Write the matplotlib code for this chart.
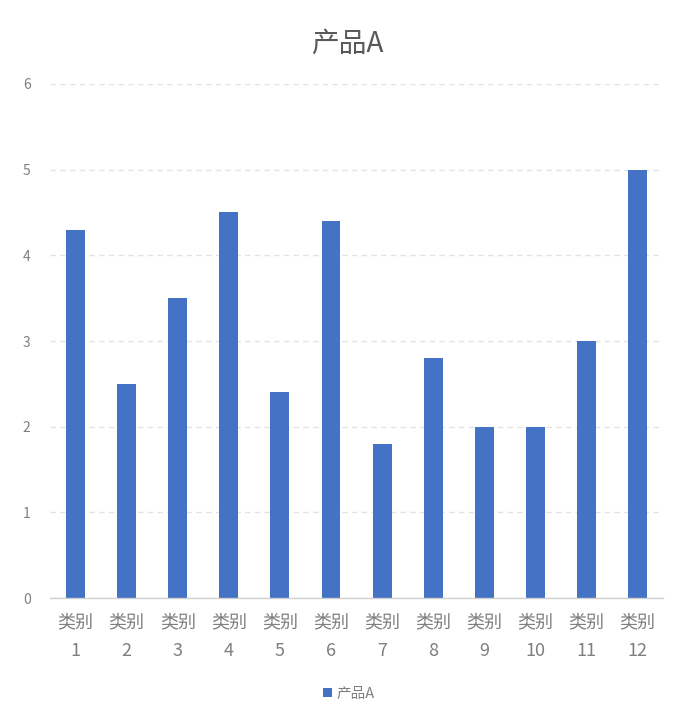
import matplotlib
matplotlib.use("Agg")
import matplotlib.pyplot as plt
from matplotlib.patches import Patch

plt.rcParams['font.family'] = ['Noto Sans CJK SC', 'DejaVu Sans']

categories = ["类别\n1", "类别\n2", "类别\n3", "类别\n4", "类别\n5", "类别\n6",
              "类别\n7", "类别\n8", "类别\n9", "类别\n10", "类别\n11", "类别\n12"]
values = [4.3, 2.5, 3.5, 4.5, 2.4, 4.4, 1.8, 2.8, 2.0, 2.0, 3.0, 5.0]
series_name = "产品A"
yticks = [0, 1, 2, 3, 4, 5, 6]

bar_color = "#4472C4"
text_color = "#7f7f7f"

fig = plt.figure(figsize=(6.98, 7.24), dpi=100)
ax = fig.add_axes([0.0716, 0.174, 0.8784, 0.71])

x = list(range(len(categories)))
ax.bar(x, values, width=0.37, color=bar_color, zorder=3, label=series_name)

ax.set_xlim(-0.5, len(categories) - 0.5)
ax.set_ylim(0, 6)
ax.set_yticks(yticks)
ax.set_xticks(x)
ax.set_xticklabels(categories, fontsize=13, color=text_color, linespacing=1.75)
ax.tick_params(axis='y', labelsize=10, colors=text_color, length=0, pad=14)
ax.tick_params(axis='x', length=0, pad=11)

ax.grid(axis='y', color="#e3e3e3", linestyle=(0, (4, 3)), linewidth=1, zorder=0)
for s in ['top', 'right', 'left']:
    ax.spines[s].set_visible(False)
ax.spines['bottom'].set_color("#d0d0d0")
ax.spines['bottom'].set_linewidth(1)
ax.spines['bottom'].set_zorder(4)

fig.text(0.497, 0.94, series_name, ha='center', va='center', fontsize=20, color="#595959")

handles = [Patch(facecolor=bar_color, edgecolor='none', label=series_name)]
fig.legend(handles=handles, loc='center', bbox_to_anchor=(0.5, 0.042), frameon=False,
           fontsize=10.5, labelcolor=text_color, handlelength=0.6, handleheight=0.6,
           handletextpad=0.3)

fig.savefig("out.png", dpi=100)
